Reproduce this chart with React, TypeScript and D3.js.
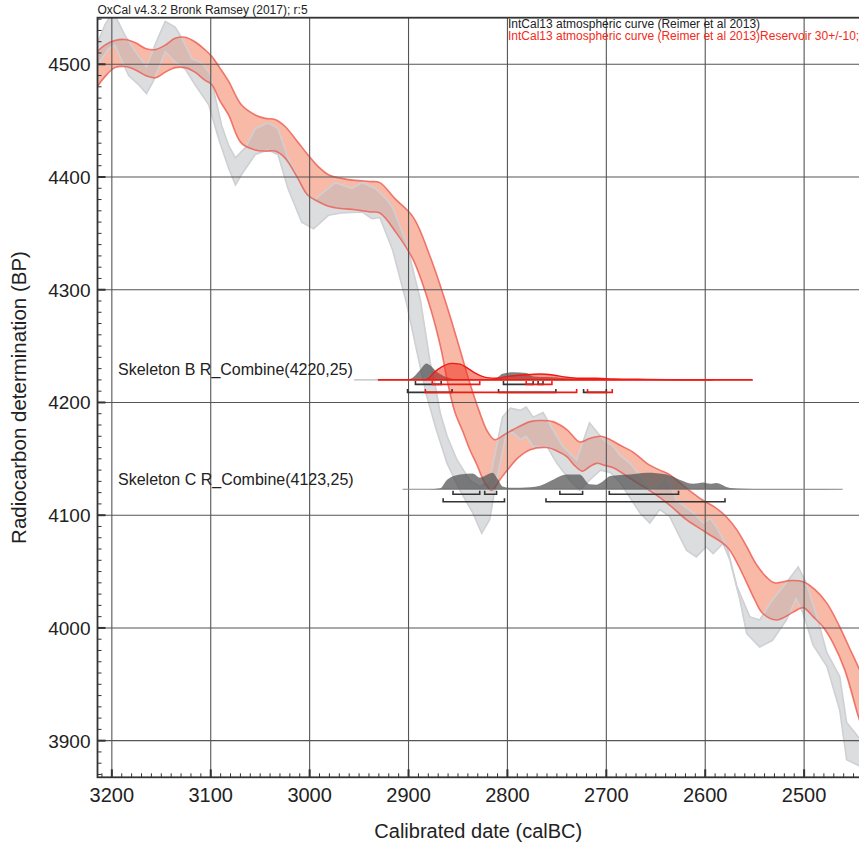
import React, { useRef, useEffect } from 'react';
import * as d3 from 'd3';

type Pt = [number, number];

const yearTicks = [3200, 3100, 3000, 2900, 2800, 2700, 2600, 2500];
const bpTicks = [4500, 4400, 4300, 4200, 4100, 4000, 3900];

const headerText = 'OxCal v4.3.2 Bronk Ramsey (2017); r:5';
const curveLabel = 'IntCal13 atmospheric curve (Reimer et al 2013)';
const reservoirLabel = 'IntCal13 atmospheric curve (Reimer et al 2013)Reservoir 30+/-10;';

// reservoir corrected curve, 1 sigma envelope [calBC, BP]
const reservoirUpper: Pt[] = [
  [3214, 4512], [3207, 4517], [3197, 4521], [3187, 4522], [3176, 4519], [3166, 4514], [3156, 4513],
  [3146, 4517], [3136, 4523], [3126, 4524], [3116, 4520], [3106, 4513], [3099, 4507], [3091, 4497],
  [3082, 4485], [3069, 4464], [3055, 4455], [3045, 4452], [3035, 4451], [3025, 4445], [3012, 4431],
  [3002, 4420], [2991, 4409], [2981, 4402], [2969, 4399], [2954, 4397], [2939, 4396], [2929, 4395],
  [2914, 4381], [2895, 4364], [2878, 4329], [2861, 4285], [2848, 4247], [2839, 4220], [2828, 4191],
  [2820, 4174], [2813, 4167], [2802, 4172], [2794, 4176], [2777, 4183], [2767, 4184], [2754, 4183],
  [2740, 4176], [2727, 4165], [2717, 4168], [2706, 4170], [2696, 4167], [2686, 4162], [2673, 4156],
  [2659, 4146], [2646, 4140], [2636, 4136], [2619, 4124], [2602, 4113], [2590, 4107], [2578, 4098],
  [2568, 4087], [2558, 4072], [2548, 4056], [2538, 4045], [2530, 4040], [2514, 4042], [2501, 4041],
  [2489, 4034], [2477, 4022], [2464, 4001], [2454, 3982], [2445, 3965], [2440, 3955],
];
const reservoirLower: Pt[] = [
  [3214, 4481], [3207, 4489], [3197, 4497], [3187, 4498], [3176, 4495], [3166, 4490], [3156, 4488],
  [3146, 4493], [3136, 4497], [3126, 4497], [3116, 4493], [3106, 4486], [3099, 4482], [3091, 4468],
  [3082, 4455], [3069, 4430], [3055, 4424], [3045, 4423], [3035, 4423], [3025, 4417], [3012, 4399],
  [3002, 4384], [2991, 4378], [2981, 4374], [2969, 4372], [2954, 4371], [2939, 4369], [2929, 4368],
  [2912, 4350], [2895, 4326], [2878, 4284], [2867, 4247], [2861, 4220], [2853, 4191], [2845, 4174],
  [2838, 4158], [2831, 4145], [2823, 4129], [2816, 4122], [2808, 4131], [2800, 4140], [2789, 4151],
  [2777, 4158], [2760, 4160], [2750, 4157], [2740, 4152], [2732, 4144], [2724, 4139], [2717, 4143],
  [2710, 4146], [2701, 4144], [2693, 4142], [2673, 4131], [2653, 4120], [2636, 4109], [2619, 4096],
  [2598, 4084], [2578, 4072], [2568, 4058], [2558, 4040], [2550, 4025], [2542, 4013], [2528, 4007],
  [2511, 4014], [2501, 4018], [2491, 4010], [2481, 4001], [2471, 3987], [2459, 3963], [2445, 3921],
  [2440, 3908],
];

// IntCal13 atmospheric, 1 sigma envelope
const intcalUpper: Pt[] = [
  [3214, 4520], [3207, 4535], [3202, 4542], [3196, 4542], [3187, 4526], [3176, 4511], [3165, 4498],
  [3155, 4520], [3146, 4538], [3136, 4533], [3129, 4523], [3119, 4505], [3109, 4501], [3101, 4492],
  [3096, 4473], [3089, 4446], [3082, 4428], [3075, 4417], [3065, 4426], [3055, 4443], [3042, 4448],
  [3032, 4443], [3022, 4417], [3005, 4387], [2995, 4380], [2984, 4388], [2974, 4395], [2957, 4390],
  [2947, 4395], [2934, 4390], [2924, 4382], [2916, 4373], [2902, 4341], [2888, 4291], [2878, 4235],
  [2874, 4220], [2868, 4191], [2861, 4170], [2851, 4149], [2838, 4131], [2828, 4125], [2818, 4131],
  [2811, 4161], [2805, 4187], [2797, 4195], [2787, 4193], [2781, 4196], [2774, 4187], [2764, 4191],
  [2754, 4176], [2744, 4161], [2730, 4149], [2717, 4182], [2703, 4167], [2693, 4161], [2686, 4153],
  [2676, 4146], [2666, 4135], [2653, 4122], [2639, 4134], [2629, 4113], [2612, 4102], [2602, 4093],
  [2595, 4097], [2589, 4090], [2578, 4072], [2568, 4037], [2555, 4010], [2545, 4007], [2532, 4025],
  [2518, 4040], [2506, 4054], [2498, 4040], [2487, 4010], [2477, 3978], [2464, 3957], [2457, 3916],
  [2445, 3903], [2440, 3900],
];
const intcalLower: Pt[] = [
  [3214, 4500], [3203, 4514], [3197, 4517], [3183, 4490], [3173, 4482], [3165, 4474], [3158, 4485],
  [3146, 4511], [3136, 4502], [3126, 4496], [3116, 4482], [3102, 4464], [3092, 4434], [3082, 4408],
  [3075, 4393], [3069, 4402], [3055, 4420], [3042, 4424], [3032, 4420], [3022, 4390], [3008, 4360],
  [2996, 4354], [2981, 4366], [2968, 4368], [2947, 4369], [2937, 4363], [2929, 4364], [2916, 4335],
  [2902, 4288], [2892, 4247], [2882, 4207], [2872, 4176], [2861, 4146], [2848, 4122], [2835, 4102],
  [2826, 4084], [2818, 4096], [2811, 4131], [2801, 4173], [2794, 4173], [2787, 4167], [2781, 4170],
  [2774, 4161], [2760, 4161], [2750, 4146], [2737, 4131], [2727, 4122], [2717, 4131], [2706, 4140],
  [2696, 4138], [2686, 4129], [2666, 4102], [2656, 4093], [2646, 4105], [2636, 4099], [2619, 4069],
  [2609, 4063], [2599, 4072], [2592, 4066], [2582, 4075], [2575, 4060], [2565, 4025], [2558, 3995],
  [2545, 3983], [2532, 3989], [2518, 4007], [2508, 4026], [2501, 4013], [2491, 3985], [2477, 3966],
  [2464, 3927], [2457, 3883], [2445, 3878], [2440, 3877],
];

// Skeleton B
const skelBLabel = 'Skeleton B R_Combine(4220,25)';
const skelBDate = 4220;
const skelBUnmodelled: Pt[] = [
  [2905, 0], [2900, 0.02], [2895, 0.17], [2888, 0.63], [2882, 1.0], [2877, 0.83], [2872, 0.52],
  [2865, 0.25], [2858, 0.1], [2850, 0.04], [2845, 0.03], [2830, 0.03], [2815, 0.05], [2809, 0.2],
  [2805, 0.38], [2794, 0.46], [2781, 0.42], [2774, 0.21], [2760, 0.17], [2740, 0.1], [2727, 0.04],
  [2717, 0.12], [2710, 0.06], [2700, 0.02], [2676, 0],
];
const skelBModelled: Pt[] = [
  [2884, 0], [2880, 0.08], [2875, 0.4], [2866, 0.8], [2856, 1.0], [2848, 0.96], [2840, 0.7],
  [2831, 0.36], [2821, 0.14], [2811, 0.1], [2801, 0.2], [2784, 0.3], [2767, 0.36], [2754, 0.3],
  [2740, 0.16], [2727, 0.1], [2710, 0.1], [2693, 0.06], [2659, 0.03], [2626, 0.01], [2592, 0],
];
const skelBUnmod68: Pt[] = [[2893, 2867], [2804, 2774], [2769, 2764]];
const skelBUnmod95: Pt[] = [[2901, 2856], [2809, 2751], [2723, 2700]];
const skelBMod68: Pt[] = [[2876, 2828], [2781, 2755]];
const skelBMod95: Pt[] = [[2883, 2730], [2719, 2694]];
const skelBSpan: Pt = [2931, 2552];

// Skeleton C
const skelCLabel = 'Skeleton C R_Combine(4123,25)';
const skelCDate = 4123;
const skelCUnmodelled: Pt[] = [
  [2880, 0], [2868, 0.06], [2861, 0.58], [2848, 0.89], [2835, 0.96], [2828, 0.71], [2822, 0.84],
  [2815, 1.0], [2810, 0.63], [2805, 0.17], [2797, 0.09], [2787, 0.09], [2777, 0.12], [2767, 0.21],
  [2757, 0.48], [2740, 0.89], [2727, 0.89], [2717, 0.3], [2710, 0.28], [2703, 0.5], [2696, 0.8],
  [2676, 0.89], [2659, 1.0], [2639, 0.89], [2626, 0.58], [2612, 0.33], [2602, 0.41], [2595, 0.33],
  [2589, 0.38], [2575, 0.08], [2560, 0.03], [2525, 0.01], [2494, 0.01], [2462, 0],
];
const skelC68: Pt[] = [[2855, 2828], [2823, 2811], [2747, 2724], [2697, 2627]];
const skelC95: Pt[] = [[2865, 2803], [2761, 2580]];
const skelCSpan: Pt = [2906, 2461];

const W = 859;
const H = 843;
const plot = { left: 97.5, right: 860, top: 17.7, bottom: 777.3 };
const distHeight = 16.5;
const font = '"Liberation Sans", Arial, sans-serif';

const App = () => {
  const svgRef = useRef<SVGSVGElement>(null);

  useEffect(() => {
    const svg = d3.select(svgRef.current);
    svg.selectAll('*').remove();

    const x = d3.scaleLinear().domain([3214.5, 2443.5]).range([plot.left, plot.right]);
    const y = d3.scaleLinear().domain([4541.3, 3867.5]).range([plot.top, plot.bottom]);

    svg.append('defs').append('clipPath').attr('id', 'plotClip')
      .append('rect')
      .attr('x', plot.left).attr('y', plot.top)
      .attr('width', plot.right - plot.left).attr('height', plot.bottom - plot.top);

    const g = svg.append('g').attr('clip-path', 'url(#plotClip)');

    const edge = (curve: d3.CurveFactory) =>
      d3.line<Pt>().x(d => x(d[0])).y(d => y(d[1])).curve(curve);
    const band = (upper: Pt[], lower: Pt[], curve: d3.CurveFactory) => {
      const l = edge(curve);
      return l(upper) + 'L' + (l([...lower].reverse()) as string).slice(1) + 'Z';
    };

    // reservoir band
    g.append('path')
      .attr('d', band(reservoirUpper, reservoirLower, d3.curveCatmullRom))
      .attr('fill', 'rgba(240,100,60,0.45)');

    // atmospheric band
    g.append('path')
      .attr('d', band(intcalUpper, intcalLower, d3.curveLinear))
      .attr('fill', 'rgba(185,187,192,0.5)');
    [intcalUpper, intcalLower].forEach(c => {
      g.append('path').attr('d', edge(d3.curveLinear)(c))
        .attr('fill', 'none').attr('stroke', '#cfd0d3').attr('stroke-width', 1.6);
    });
    [reservoirUpper, reservoirLower].forEach(c => {
      g.append('path').attr('d', edge(d3.curveCatmullRom)(c))
        .attr('fill', 'none').attr('stroke', 'rgba(236,90,80,0.8)').attr('stroke-width', 1.6);
    });

    // grid
    g.append('g').selectAll('line').data(yearTicks).join('line')
      .attr('x1', d => x(d)).attr('x2', d => x(d))
      .attr('y1', plot.top).attr('y2', plot.bottom)
      .attr('stroke', '#555').attr('stroke-width', 1.1);
    g.append('g').selectAll('line').data(bpTicks).join('line')
      .attr('x1', plot.left).attr('x2', plot.right)
      .attr('y1', d => y(d)).attr('y2', d => y(d))
      .attr('stroke', '#555').attr('stroke-width', 1.1);

    // distributions
    const distArea = (base: number) => d3.area<Pt>()
      .x(d => x(d[0])).y0(y(base)).y1(d => y(base) - d[1] * distHeight)
      .curve(d3.curveMonotoneX);
    const distLine = (base: number) => d3.line<Pt>()
      .x(d => x(d[0])).y(d => y(base) - d[1] * distHeight)
      .curve(d3.curveMonotoneX);

    const drawRanges = (ranges: Pt[], base: number, offset: number, color: string) => {
      const yr = y(base) + offset;
      g.append('g').selectAll('path').data(ranges).join('path')
        .attr('d', d => `M${x(d[0])},${yr - 3.5}L${x(d[0])},${yr}L${x(d[1])},${yr}L${x(d[1])},${yr - 3.5}`)
        .attr('fill', 'none').attr('stroke', color).attr('stroke-width', 1.6);
    };

    // Skeleton C
    g.append('line')
      .attr('x1', x(skelCSpan[0])).attr('x2', x(skelCSpan[1]))
      .attr('y1', y(skelCDate)).attr('y2', y(skelCDate))
      .attr('stroke', '#8a8a8a').attr('stroke-width', 1);
    g.append('path').attr('d', distArea(skelCDate)(skelCUnmodelled))
      .attr('fill', 'rgba(80,80,82,0.72)');
    drawRanges(skelC68, skelCDate, 5, '#333');
    drawRanges(skelC95, skelCDate, 12.5, '#333');

    // Skeleton B
    g.append('line')
      .attr('x1', x(2955)).attr('x2', x(skelBSpan[1]))
      .attr('y1', y(skelBDate)).attr('y2', y(skelBDate))
      .attr('stroke', '#aaa').attr('stroke-width', 1);
    g.append('path').attr('d', distArea(skelBDate)(skelBUnmodelled))
      .attr('fill', 'rgba(80,80,82,0.72)');
    g.append('path').attr('d', distArea(skelBDate)(skelBModelled))
      .attr('fill', 'rgba(240,40,20,0.5)');
    g.append('path').attr('d', distLine(skelBDate)(skelBModelled))
      .attr('fill', 'none').attr('stroke', '#ee1a14').attr('stroke-width', 1.4);
    g.append('line')
      .attr('x1', x(skelBSpan[0])).attr('x2', x(skelBSpan[1]))
      .attr('y1', y(skelBDate)).attr('y2', y(skelBDate))
      .attr('stroke', '#f21a12').attr('stroke-width', 1.6);
    drawRanges(skelBUnmod68, skelBDate, 4.5, '#333');
    drawRanges(skelBUnmod95, skelBDate, 12.5, '#333');
    drawRanges(skelBMod68, skelBDate, 4.5, '#ee1a14');
    drawRanges(skelBMod95, skelBDate, 12.5, '#ee1a14');

    // labels
    const labels: [string, number][] = [[skelBLabel, skelBDate], [skelCLabel, skelCDate]];
    svg.append('g').selectAll('text').data(labels).join('text')
      .attr('x', plot.left + 20.5).attr('y', d => y(d[1]) - 4.5)
      .attr('font-family', font).attr('font-size', 16).attr('fill', '#222')
      .text(d => d[0]);

    // ticks
    const minorYears = d3.range(3210, 2440, -10);
    const minorBp = d3.range(3870, 4550, 10);
    const ax = svg.append('g');
    ax.selectAll('line.mx').data(minorYears).join('line').attr('class', 'mx')
      .attr('x1', d => x(d)).attr('x2', d => x(d))
      .attr('y1', plot.bottom).attr('y2', d => plot.bottom - (d % 100 === 0 ? 8 : 4))
      .attr('stroke', '#333').attr('stroke-width', d => (d % 100 === 0 ? 2 : 1));
    ax.selectAll('line.my').data(minorBp).join('line').attr('class', 'my')
      .attr('y1', d => y(d)).attr('y2', d => y(d))
      .attr('x1', plot.left).attr('x2', d => plot.left + (d % 100 === 0 ? 8 : 4))
      .attr('stroke', '#333').attr('stroke-width', d => (d % 100 === 0 ? 2 : 1));

    // frame
    svg.append('rect')
      .attr('x', plot.left).attr('y', plot.top)
      .attr('width', plot.right - plot.left).attr('height', plot.bottom - plot.top)
      .attr('fill', 'none').attr('stroke', '#333').attr('stroke-width', 1.8);

    // tick labels
    svg.append('g').selectAll('text').data(yearTicks).join('text')
      .attr('x', d => x(d)).attr('y', plot.bottom + 25)
      .attr('text-anchor', 'middle')
      .attr('font-family', font).attr('font-size', 20).attr('fill', '#222')
      .text(d => d);
    svg.append('g').selectAll('text').data(bpTicks).join('text')
      .attr('x', plot.left - 7).attr('y', d => y(d) + 7)
      .attr('text-anchor', 'end')
      .attr('font-family', font).attr('font-size', 19).attr('fill', '#222')
      .text(d => d);

    // axis titles
    svg.append('text')
      .attr('x', (plot.left + 859) / 2).attr('y', 838)
      .attr('text-anchor', 'middle')
      .attr('font-family', font).attr('font-size', 20).attr('fill', '#222')
      .text('Calibrated date (calBC)');
    svg.append('text')
      .attr('transform', `translate(26,${(plot.top + plot.bottom) / 2}) rotate(-90)`)
      .attr('text-anchor', 'middle')
      .attr('font-family', font).attr('font-size', 20.5).attr('fill', '#222')
      .text('Radiocarbon determination (BP)');

    // header and legend
    svg.append('text')
      .attr('x', plot.left).attr('y', 14)
      .attr('font-family', font).attr('font-size', 12).attr('fill', '#222')
      .text(headerText);
    svg.append('text')
      .attr('x', 508).attr('y', 27.5)
      .attr('font-family', font).attr('font-size', 12).attr('fill', '#222')
      .text(curveLabel);
    svg.append('text')
      .attr('x', 508).attr('y', 40)
      .attr('font-family', font).attr('font-size', 12).attr('fill', '#f22a1a')
      .text(reservoirLabel);
  }, []);

  return (
    <svg
      ref={svgRef}
      width={W}
      height={H}
      style={{ position: 'absolute', left: 0, top: 0, background: '#fff' }}
    />
  );
};

export default App;
